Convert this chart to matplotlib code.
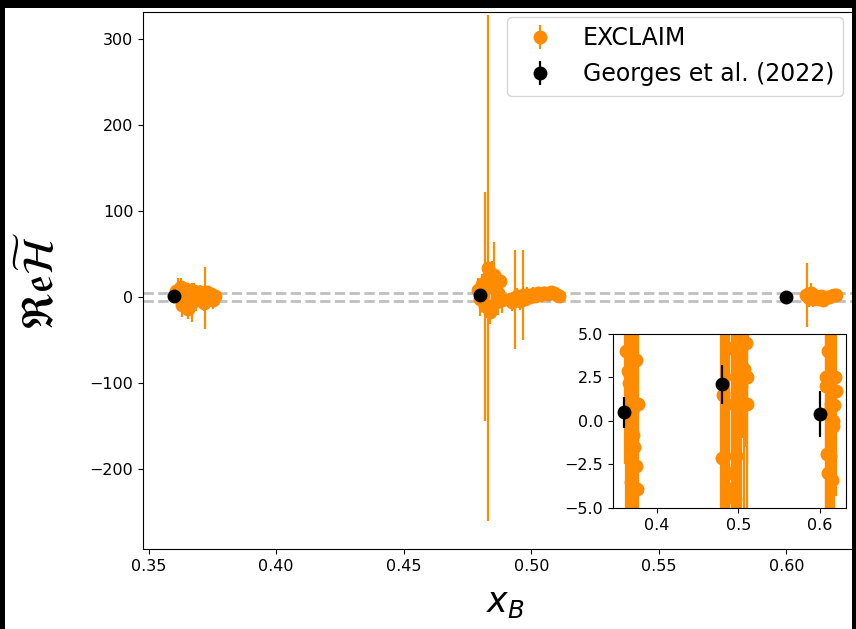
import matplotlib.pyplot as plt
from matplotlib.patches import Rectangle

# EXCLAIM points (three kinematic clusters)
x_exclaim = [0.3608, 0.3615, 0.3625, 0.3632, 0.3640, 0.3648, 0.3655, 0.3662, 0.3670, 0.3678,
             0.3685, 0.3693, 0.3700, 0.3708, 0.3716, 0.3722, 0.3730, 0.3738, 0.3746, 0.3754, 0.3762,
             0.4790, 0.4797, 0.4805, 0.4812, 0.4819, 0.4826, 0.4832, 0.4838, 0.4845, 0.4852,
             0.4860, 0.4868, 0.4876, 0.4885, 0.4915, 0.4925, 0.4936, 0.4945, 0.4955, 0.4966,
             0.4975, 0.4985, 0.4995, 0.5005, 0.5015, 0.5025, 0.5035, 0.5045, 0.5055, 0.5065,
             0.5078, 0.5090, 0.5102, 0.5110,
             0.6075, 0.6080, 0.6090, 0.6098, 0.6105, 0.6115, 0.6125, 0.6135, 0.6145, 0.6155,
             0.6165, 0.6175, 0.6185, 0.6195]
y_exclaim = [6.5, 4.0, 12.0, -9.0, 2.9, 9.5, -14.0, 2.2, -6.5, 7.0,
             -3.5, 0.6, 5.5, -0.8, -7.0, -1.5, 6.0, -2.6, 3.5, -3.9, 1.0,
             8.0, -2.1, 15.0, 1.5, -11.0, 22.0, 33.5, -18.0, 12.0, 25.0,
             -6.0, 4.2, 18.0, -3.9, -3.0, -6.0, -3.0, 1.0, -4.5, 2.5,
             -2.0, 1.6, -0.05, 3.0, 0.5, 4.0, 2.0, 5.0, 4.36, 3.0,
             5.5, 4.5, 2.5, 1.0,
             2.0, 2.5, -1.9, 4.0, -3.0, 0.5, -2.0, 1.0, -3.4, 0.0,
             -0.3, 0.9, 2.5, 1.7]
err_exclaim = [9, 18, 10, 14, 8, 7, 12, 11, 22.5, 9,
               13, 10, 8, 11, 9, 36, 7, 9, 8, 10, 6,
               14, 20, 12, 18, 133, 16, 293.5, 14, 30, 39,
               12, 25, 10, 15, 8, 10, 58, 9, 11, 52.5,
               8, 10, 7, 9, 8, 6, 7, 6, 5, 8,
               7, 6, 5, 6,
               8, 37, 10, 12.6, 9, 7, 8, 6, 8, 7,
               6, 7, 6, 6]

# Georges et al. (2022)
x_georges = [0.36, 0.48, 0.60]
y_georges = [0.5, 2.1, 0.4]
err_georges = [0.9, 1.12, 1.3]

orange = 'darkorange'
fig = plt.figure(figsize=(8.56, 6.29), dpi=100)
ax = fig.add_axes([0.1671, 0.1272, 0.847, 0.8537])

ax.axhline(5, color='gray', alpha=0.5, ls='--', lw=2, zorder=1)
ax.axhline(-5, color='gray', alpha=0.5, ls='--', lw=2, zorder=1)
ax.errorbar(x_exclaim, y_exclaim, yerr=err_exclaim, fmt='o', color=orange,
            ms=9, lw=1.6, label='EXCLAIM', zorder=2)
ax.errorbar(x_georges, y_georges, yerr=err_georges, fmt='o', color='black',
            ms=9, lw=1.6, label='Georges et al. (2022)', zorder=3)
ax.set_xlim(0.3478, 0.632)
ax.set_ylim(-293, 331)
ax.set_xticks([0.35, 0.40, 0.45, 0.50, 0.55, 0.60])
ax.tick_params(labelsize=11.5)
ax.set_xlabel('$x_B$', fontsize=25, labelpad=9)
ax.set_ylabel(r'$\mathfrak{Re}\widetilde{\mathcal{H}}$', fontsize=31)
ax.yaxis.set_label_coords(-0.11, 0.5)
ax.legend(loc='upper left', bbox_to_anchor=(507 / 856, 1 - 17 / 629),
          bbox_transform=fig.transFigure, borderaxespad=0, fontsize=17)

# zoomed inset around zero
axin = fig.add_axes([0.7161, 0.1924, 0.2722, 0.2766])
axin.errorbar(x_exclaim, y_exclaim, yerr=err_exclaim, fmt='o', color=orange,
              ms=9, lw=1.6, zorder=2)
axin.errorbar(x_georges, y_georges, yerr=err_georges, fmt='o', color='black',
              ms=9, lw=1.6, zorder=3)
axin.set_xlim(0.346, 0.632)
axin.set_ylim(-5, 5)
axin.set_xticks([0.4, 0.5, 0.6])
axin.set_yticks([-5, -2.5, 0, 2.5, 5])
axin.tick_params(labelsize=11.5)

# black screenshot border
for rect in [(0, 1 - 8 / 629, 1, 8 / 629), (0, 0, 5 / 856, 1), (1 - 4 / 856, 0, 4 / 856, 1)]:
    fig.add_artist(Rectangle(rect[:2], rect[2], rect[3], transform=fig.transFigure,
                             facecolor='black', edgecolor='none', zorder=10))

plt.savefig('out.png', dpi=100)
